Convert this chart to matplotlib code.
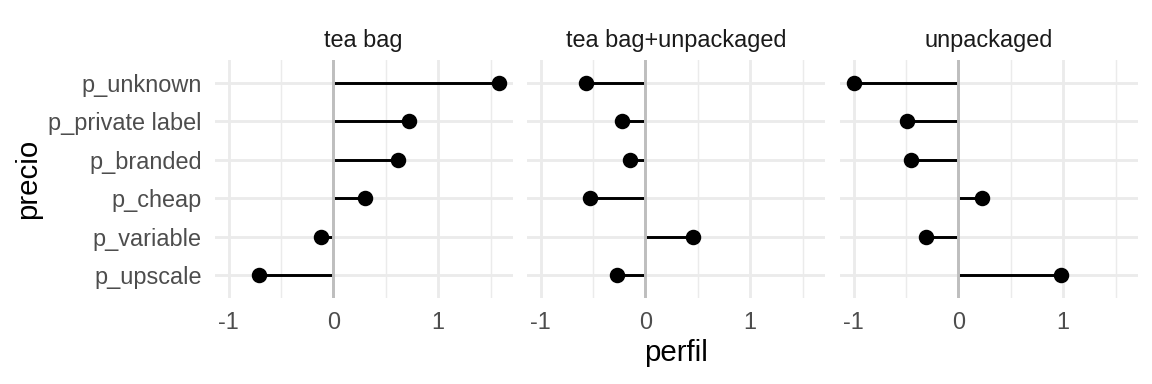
import numpy as np
import matplotlib.pyplot as plt
from matplotlib.ticker import FixedLocator

plt.rcParams.update({'font.family': ['Liberation Sans', 'DejaVu Sans']})

# datos
precio = ['p_unknown', 'p_private label', 'p_branded', 'p_cheap', 'p_variable', 'p_upscale']
perfiles = ['tea bag', 'tea bag+unpackaged', 'unpackaged']
tea_bag = [1.58, 0.72, 0.62, 0.30, -0.12, -0.71]
tea_bag_unpackaged = [-0.57, -0.22, -0.15, -0.53, 0.45, -0.27]
unpackaged = [-1.00, -0.49, -0.45, 0.23, -0.31, 0.98]
valores = [tea_bag, tea_bag_unpackaged, unpackaged]

W, H = 1152, 384
fig = plt.figure(figsize=(6, 2), dpi=192)

# limites como ggplot (expansion 5%)
todos = np.concatenate([np.array(v) for v in valores] + [[0]])
lo, hi = todos.min(), todos.max()
pad = 0.05 * (hi - lo)
xlim = (lo - pad, hi + pad)

lefts = [215, 527, 840]
pw = 297.5
top, bottom = 60, 298
grid_col = '#EBEBEB'
y = np.arange(len(precio))[::-1]

for k, (nombre, vals) in enumerate(zip(perfiles, valores)):
    ax = fig.add_axes([lefts[k] / W, 1 - bottom / H, pw / W, (bottom - top) / H])
    for s in ax.spines.values():
        s.set_visible(False)
    ax.set_xlim(*xlim)
    ax.set_ylim(-0.6, len(precio) - 0.4)
    ax.xaxis.set_major_locator(FixedLocator([-1, 0, 1]))
    ax.xaxis.set_minor_locator(FixedLocator([-0.5, 0.5, 1.5]))
    ax.set_xticklabels(['-1', '0', '1'])
    ax.set_yticks(y)
    if k == 0:
        ax.set_yticklabels(precio)
    else:
        ax.set_yticklabels([])
    ax.tick_params(length=0, which='both', labelsize=8.8, labelcolor='#4D4D4D', pad=5)
    ax.grid(True, which='major', color=grid_col, lw=1.07, zorder=0)
    ax.grid(True, which='minor', axis='x', color=grid_col, lw=0.53, zorder=0)
    ax.set_axisbelow(True)

    ax.hlines(y, 0, vals, color='black', lw=1.1, zorder=2)
    ax.axvline(0, color='#BEBEBE', lw=1.1, zorder=3)
    ax.plot(vals, y, 'o', color='black', ms=4.8, zorder=4)

    ax.set_title(nombre, fontsize=8.8, color='#1A1A1A', pad=5)

fig.text(676 / W, 1 - 353 / H, 'perfil', fontsize=11, ha='center', va='center')
fig.text(28 / W, 1 - 179 / H, 'precio', fontsize=11, rotation=90, ha='center', va='center')

fig.savefig('out.png', dpi=192)
